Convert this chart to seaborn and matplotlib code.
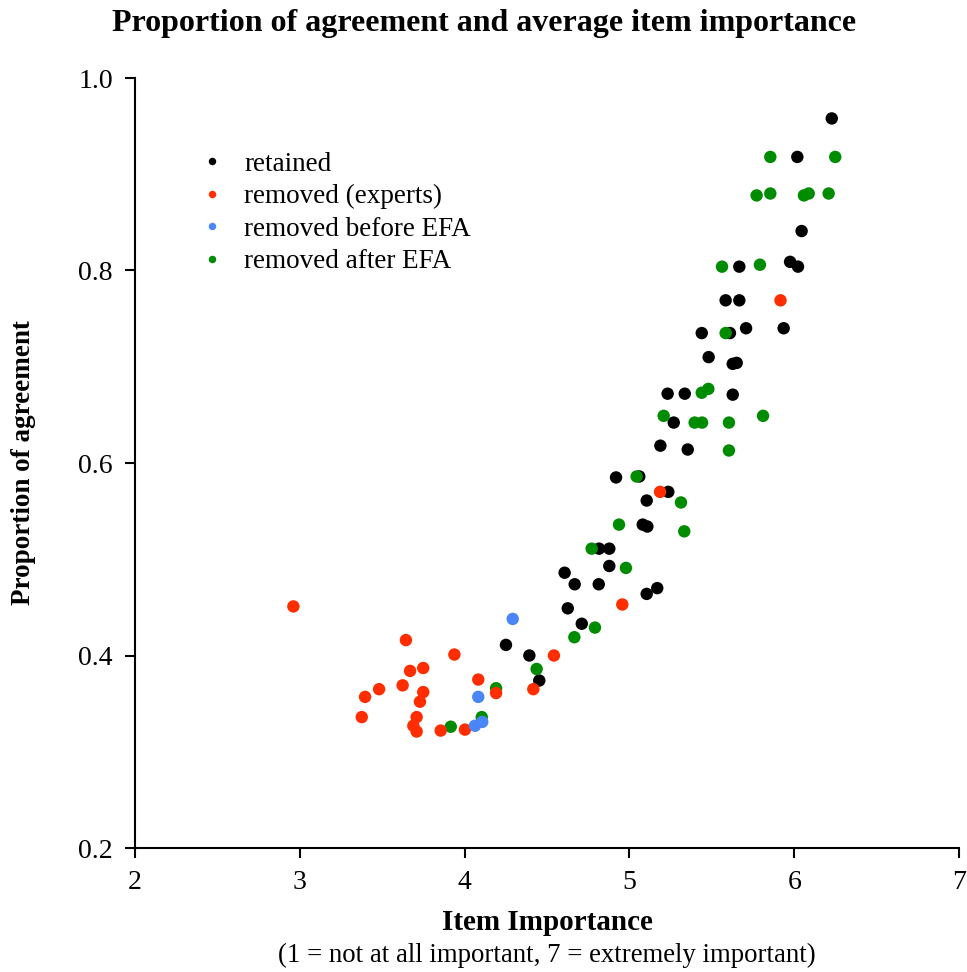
import matplotlib
matplotlib.use("Agg")
import matplotlib.pyplot as plt
import seaborn as sns
import pandas as pd

# ---- data ----
retained_x = [4.251, 4.393, 4.453, 4.626, 4.711, 4.607, 4.668, 4.814, 4.816, 4.878,
              4.878, 5.169, 5.105, 4.919, 5.060, 5.236, 5.105, 5.081, 5.109, 5.188,
              5.354, 5.269, 5.232, 5.336, 5.627, 5.481, 5.627, 5.651, 5.439, 5.610,
              5.708, 5.936, 5.584, 5.667, 5.667, 5.975, 6.023, 6.045, 6.019, 6.228]
retained_y = [0.411, 0.400, 0.374, 0.449, 0.433, 0.486, 0.474, 0.474, 0.511, 0.511,
              0.493, 0.470, 0.464, 0.585, 0.586, 0.570, 0.561, 0.536, 0.534, 0.618,
              0.614, 0.642, 0.672, 0.672, 0.671, 0.710, 0.703, 0.704, 0.735, 0.735,
              0.740, 0.740, 0.769, 0.769, 0.804, 0.809, 0.804, 0.841, 0.918, 0.958]

after_x = [4.191, 3.916, 4.104, 4.437, 4.666, 4.791, 4.771, 4.979, 4.937, 5.044,
           5.313, 5.333, 5.604, 5.208, 5.396, 5.441, 5.604, 5.811, 5.439, 5.479,
           5.584, 5.562, 5.792, 5.772, 5.855, 6.059, 6.088, 6.209, 5.855, 6.249]
after_y = [0.366, 0.326, 0.336, 0.386, 0.419, 0.429, 0.511, 0.491, 0.536, 0.586,
           0.559, 0.529, 0.613, 0.649, 0.642, 0.642, 0.642, 0.649, 0.673, 0.677,
           0.735, 0.804, 0.806, 0.878, 0.880, 0.878, 0.880, 0.880, 0.918, 0.918]

experts_x = [2.961, 3.644, 3.938, 3.749, 3.669, 3.481, 3.624, 3.749, 4.083, 4.191,
             3.396, 3.729, 3.376, 3.709, 3.689, 3.709, 3.855, 4.002, 4.417, 4.542,
             4.957, 5.186, 5.917]
experts_y = [0.451, 0.416, 0.401, 0.387, 0.384, 0.365, 0.369, 0.362, 0.375, 0.361,
             0.357, 0.352, 0.336, 0.336, 0.327, 0.321, 0.322, 0.323, 0.365, 0.400,
             0.453, 0.570, 0.769]

before_x = [4.292, 4.083, 4.063, 4.107]
before_y = [0.438, 0.357, 0.327, 0.331]

groups = ["retained", "removed (experts)", "removed before EFA", "removed after EFA"]
colors = ["#000000", "#FF2D00", "#4A86F7", "#008C00"]

# drawing order: retained, after EFA, experts, before EFA
df = pd.concat([
    pd.DataFrame({"x": retained_x, "y": retained_y, "group": groups[0]}),
    pd.DataFrame({"x": after_x, "y": after_y, "group": groups[3]}),
    pd.DataFrame({"x": experts_x, "y": experts_y, "group": groups[1]}),
    pd.DataFrame({"x": before_x, "y": before_y, "group": groups[2]}),
], ignore_index=True)

sns.set_style("white")
plt.rcParams["font.family"] = ["Liberation Serif", "DejaVu Serif"]
plt.rcParams["text.color"] = "black"
plt.rcParams["axes.labelcolor"] = "black"
plt.rcParams["xtick.color"] = "black"
plt.rcParams["ytick.color"] = "black"

fig = plt.figure(figsize=(9.67, 9.72), dpi=100)
ax = fig.add_axes([135 / 967, 124 / 972, 824 / 967, 770 / 972])

sns.scatterplot(data=df, x="x", y="y", hue="group", hue_order=groups,
                palette=dict(zip(groups, colors)), s=80, linewidth=0,
                edgecolor="none", ax=ax, legend=True)

ax.set_xlim(2, 7)
ax.set_ylim(0.2, 1.0)
ax.set_xticks([2, 3, 4, 5, 6, 7])
ax.set_yticks([0.2, 0.4, 0.6, 0.8, 1.0])
ax.set_yticklabels(["0.2", "0.4", "0.6", "0.8", "1.0"])
ax.tick_params(axis="both", which="major", direction="out", length=7, width=1.5,
               labelsize=20, colors="black", pad=9, bottom=True, left=True)
for side in ["top", "right"]:
    ax.spines[side].set_visible(False)
for side in ["left", "bottom"]:
    ax.spines[side].set_color("black")
    ax.spines[side].set_linewidth(1.5)

ax.set_xlabel("Item Importance", fontsize=21, fontweight="bold", labelpad=10)
ax.set_ylabel("Proportion of agreement", fontsize=19.5, fontweight="bold")
ax.yaxis.set_label_coords((36 - 135) / 824, 0.5)
fig.text(547 / 967, 1 - 955 / 972, "(1 = not at all important, 7 = extremely important)",
         ha="center", va="center", fontsize=19.3)
fig.text(484 / 967, 1 - 24 / 972, "Proportion of agreement and average item importance",
         ha="center", va="center", fontsize=23, fontweight="bold")

handles, labels = ax.get_legend_handles_labels()
ax.legend(handles, labels, loc="upper left", bbox_to_anchor=(0.047, 0.918),
          frameon=False, fontsize=19.5, markerscale=0.6, handletextpad=0.2,
          labelspacing=0.27, borderaxespad=0)

fig.savefig("out.png", dpi=100)
